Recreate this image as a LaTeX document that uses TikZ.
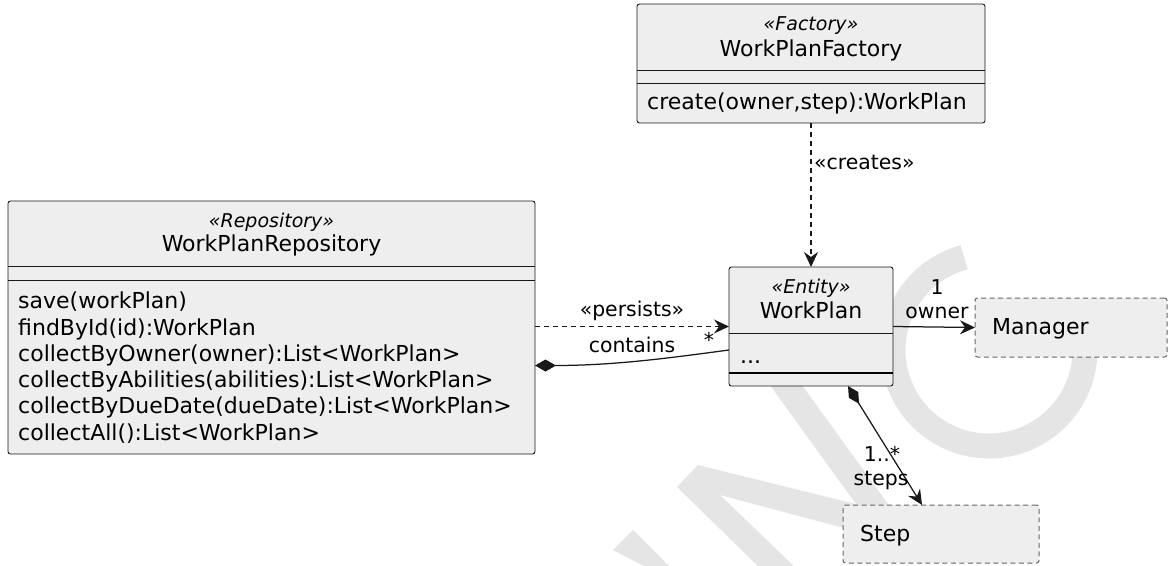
\documentclass[tikz,border=0pt]{standalone}
\usepackage{fontspec}
\setmainfont{DejaVu Sans}
\usetikzlibrary{arrows.meta}
\definecolor{boxfill}{HTML}{EEEEEE}
\definecolor{boxline}{HTML}{181818}
\definecolor{dashline}{HTML}{666666}
\definecolor{wm}{HTML}{E5E5E5}
\tikzset{
  classbox/.style={draw=boxline, fill=boxfill, line width=0.9pt, rounded corners=2.5pt, inner sep=0pt, outer sep=0pt},
  ghostbox/.style={draw=dashline, fill=boxfill, line width=1pt, dash pattern=on 5pt off 3.5pt, rounded corners=2.5pt, inner sep=0pt, outer sep=0pt},
  stereo/.style={font=\fontsize{19}{22}\selectfont\itshape, inner sep=0pt, anchor=mid},
  cname/.style={font=\fontsize{22}{26}\selectfont, inner sep=0pt, anchor=mid},
  member/.style={font=\fontsize{22}{26}\selectfont, inner sep=0pt, anchor=mid west},
  lbl/.style={font=\fontsize{20.4}{24}\selectfont, inner sep=0pt, anchor=mid},
  sepline/.style={draw=boxline, line width=0.9pt},
  thicksep/.style={draw=black, line width=2pt},
  conn/.style={draw=black!90, line width=1.25pt},
  dashedline/.style={dash pattern=on 5pt off 4pt},
  openhead/.style={arrows={-{Stealth[length=15pt,width=14pt,inset=5pt]}}},
  compone/.style={arrows={{Diamond[length=21pt,width=12pt]}-}},
  comptwo/.style={arrows={{Diamond[length=21pt,width=11pt]}-{Stealth[length=15pt,width=14pt,inset=5pt]}}},
}
\begin{document}
\begin{tikzpicture}[x=1pt,y=-1pt]
\useasboundingbox (0,0) rectangle (1169,565);
% watermark
\begin{scope}
\clip (0,0) rectangle (1169,565);
\draw[wm, line width=25pt] (989,350) ++(-105:96) arc[start angle=-105, end angle=-375, radius=96];
\fill[wm] (677,487) -- (698,465) -- (900,515) -- (900,543) -- (720,495) -- (800,572) -- (764,572) -- cycle;
\fill[wm] (613,550) -- (633,530) -- (675,572) -- (655,572) -- cycle;
\draw[wm, line width=26pt] (775,370) -- (880,515);
\end{scope}

% boxes
\node[classbox, minimum width=348pt, minimum height=119pt] (factory) at (811,63.5) {};
\node[classbox, minimum width=527pt, minimum height=253pt] (repo) at (271.5,327.5) {};
\node[classbox, minimum width=164pt, minimum height=119pt] (wp) at (811,326.5) {};
\node[ghostbox, minimum width=192pt, minimum height=59pt] (mgr) at (1071,327.5) {};
\node[ghostbox, minimum width=196pt, minimum height=58pt] (step) at (941,534) {};

% factory contents
\node[stereo] (fst) at (811,27.5) {«Factory»};
\node[cname] (fnm) at (811,54) {WorkPlanFactory};
\draw[sepline] (factory.west |- 0,70) -- (factory.east |- 0,70);
\draw[sepline] (factory.west |- 0,83) -- (factory.east |- 0,83);
\node[member] (fm1) at (647,107) {create(owner,step):WorkPlan};

% repository contents
\node[stereo] (rst) at (271.5,224.5) {«Repository»};
\node[cname] (rnm) at (271.5,249) {WorkPlanRepository};
\draw[sepline] (repo.west |- 0,266) -- (repo.east |- 0,266);
\draw[sepline] (repo.west |- 0,280) -- (repo.east |- 0,280);
\node[member] (rm1) at (18,306) {save(workPlan)};
\node[member] (rm2) at (18,332.3) {findById(id):WorkPlan};
\node[member] (rm3) at (18,358.6) {collectByOwner(owner):List<WorkPlan>};
\node[member] (rm4) at (18,384.9) {collectByAbilities(abilities):List<WorkPlan>};
\node[member] (rm5) at (18,411.2) {collectByDueDate(dueDate):List<WorkPlan>};
\node[member] (rm6) at (18,437.5) {collectAll():List<WorkPlan>};

% workplan contents
\node[stereo] (wst) at (811,290.5) {«Entity»};
\node[cname] (wnm) at (811,316) {WorkPlan};
\draw[sepline] (wp.west |- 0,333) -- (wp.east |- 0,333);
\node[member, anchor=base west] (wdots) at (740,363) {...};
\draw[thicksep] (wp.west |- 0,373) -- (wp.east |- 0,373);

% manager and step
\node[member] (mtx) at (992,332) {Manager};
\node[member] (stx) at (860,539) {Step};

% connectors
\draw[conn, dashedline, openhead] (factory.south) -- (wp.north);
\node[lbl, anchor=mid west] (lcreates) at (814,167) {«creates»};

\draw[conn, dashedline, openhead] (repo.east |- wp.west) -- (wp.west);
\node[lbl] (lpersists) at (632,314) {«persists»};

\draw[conn, compone] ([yshift=-38pt]repo.east) .. controls +(80,0) and +(-60,8) .. ([yshift=-23.5pt]wp.west);
\node[lbl] (lcontains) at (632,350) {contains};
\node[lbl] (lstar) at (709,345) {*};

\draw[conn, openhead] (wp.east) -- (mgr.west);
\node[lbl] (lone) at (937,292) {1};
\node[lbl] (lowner) at (937,316) {owner};

\draw[conn, comptwo] ([xshift=37pt]wp.south) -- ([xshift=-19pt]step.north);
\node[lbl] (lmult) at (882,459) {1..*};
\node[lbl] (lsteps) at (881,483) {steps};
\end{tikzpicture}
\end{document}
